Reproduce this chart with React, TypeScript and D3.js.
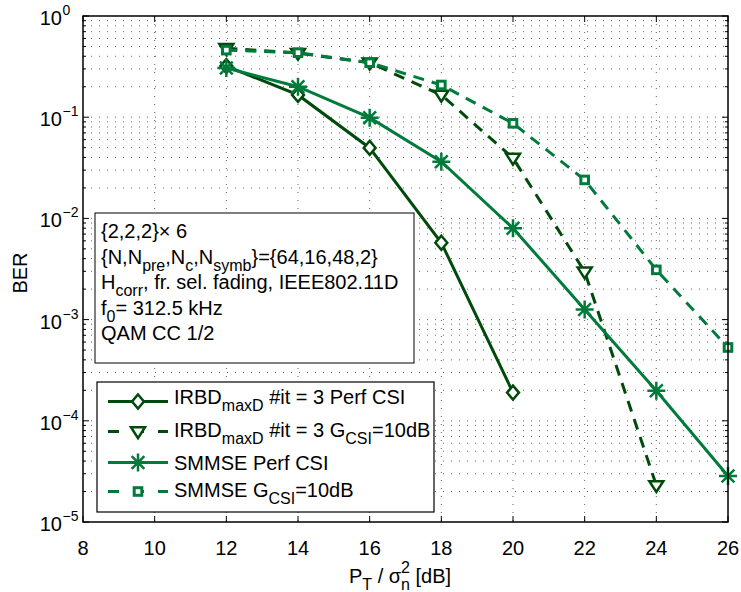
import React from "react";
import * as d3 from "d3";

const xTicks = [8, 10, 12, 14, 16, 18, 20, 22, 24, 26];
const yExps = [0, -1, -2, -3, -4, -5];

const snrIrbdPerf = [12, 14, 16, 18, 20];
const berIrbdPerf = [0.32, 0.166, 0.0497, 0.00575, 1.9e-4];
const snrIrbdG = [12, 14, 16, 18, 20, 22, 24];
const berIrbdG = [0.48, 0.43, 0.345, 0.166, 0.0395, 0.00297, 2.3e-5];
const snrSmmsePerf = [12, 14, 16, 18, 20, 22, 24, 26];
const berSmmsePerf = [0.306, 0.2, 0.099, 0.0363, 0.008, 0.00126, 1.98e-4, 2.85e-5];
const snrSmmseG = [12, 14, 16, 18, 20, 22, 24, 26];
const berSmmseG = [0.46, 0.434, 0.346, 0.208, 0.087, 0.024, 0.0031, 5.3e-4];

const DARK = "#004a0c";
const LIGHT = "#007b3c";

type Seg = { t: string; s?: "sub" | "sup" };
type Series = { x: number[]; y: number[]; color: string; dash: boolean; marker: string; label: Seg[] };

const series: Series[] = [
  { x: snrIrbdPerf, y: berIrbdPerf, color: DARK, dash: false, marker: "diamond", label: [{ t: "IRBD" }, { t: "maxD", s: "sub" }, { t: " #it = 3 Perf CSI" }] },
  { x: snrIrbdG, y: berIrbdG, color: DARK, dash: true, marker: "triangle", label: [{ t: "IRBD" }, { t: "maxD", s: "sub" }, { t: " #it = 3 G" }, { t: "CSI", s: "sub" }, { t: "=10dB" }] },
  { x: snrSmmsePerf, y: berSmmsePerf, color: LIGHT, dash: false, marker: "asterisk", label: [{ t: "SMMSE Perf CSI" }] },
  { x: snrSmmseG, y: berSmmseG, color: LIGHT, dash: true, marker: "square", label: [{ t: "SMMSE G" }, { t: "CSI", s: "sub" }, { t: "=10dB" }] },
];

const infoLines: Seg[][] = [
  [{ t: "{2,2,2}\u00d7 6" }],
  [{ t: "{N,N" }, { t: "pre", s: "sub" }, { t: ",N" }, { t: "c", s: "sub" }, { t: ",N" }, { t: "symb", s: "sub" }, { t: "}={64,16,48,2}" }],
  [{ t: "H" }, { t: "corr", s: "sub" }, { t: ", fr. sel. fading, IEEE802.11D" }],
  [{ t: "f" }, { t: "0", s: "sub" }, { t: "= 312.5 kHz" }],
  [{ t: "QAM CC 1/2" }],
];

const FONT = "Liberation Sans, Arial, Helvetica, sans-serif";
const FS = 20;

function Rich({ x, y, segs, size, anchor }: { x: number; y: number; segs: Seg[]; size: number; anchor?: string }) {
  const small = size * 0.8;
  let cur = 0;
  const out: React.ReactNode[] = [];
  segs.forEach((sg, i) => {
    const target = sg.s === "sub" ? size * 0.36 : sg.s === "sup" ? -size * 0.45 : 0;
    const dy = target - cur;
    cur = target;
    out.push(
      <tspan key={i} dy={dy} fontSize={sg.s ? small : size}>
        {sg.t}
      </tspan>
    );
  });
  return (
    <text x={x} y={y} fontFamily={FONT} fontSize={size} textAnchor={anchor || "start"} fill="#000">
      {out}
    </text>
  );
}

function Marker({ type, cx, cy, color }: { type: string; cx: number; cy: number; color: string }) {
  const sw = 2.5;
  if (type === "diamond") {
    const r = 7;
    return <path d={`M${cx},${cy - r}L${cx + r * 0.85},${cy}L${cx},${cy + r}L${cx - r * 0.85},${cy}Z`} fill="#fff" stroke={color} strokeWidth={sw} />;
  }
  if (type === "triangle") {
    const r = 7;
    return <path d={`M${cx - r},${cy - r * 0.6}L${cx + r},${cy - r * 0.6}L${cx},${cy + r * 0.95}Z`} fill="#fff" stroke={color} strokeWidth={sw} strokeLinejoin="miter" />;
  }
  if (type === "square") {
    const r = 3.8;
    return <rect x={cx - r} y={cy - r} width={2 * r} height={2 * r} fill="#fff" stroke={color} strokeWidth={3} />;
  }
  const r = 9;
  const d = r * 0.707;
  return (
    <path
      d={`M${cx - r},${cy}L${cx + r},${cy}M${cx},${cy - r}L${cx},${cy + r}M${cx - d},${cy - d}L${cx + d},${cy + d}M${cx - d},${cy + d}L${cx + d},${cy - d}`}
      stroke={color}
      strokeWidth={sw}
      fill="none"
    />
  );
}

export default function App() {
  const W = 741, H = 592;
  const L = 83, R = 728, T = 16, B = 522;
  const x = d3.scaleLinear().domain([8, 26]).range([L, R]);
  const y = d3.scaleLog().domain([1e-5, 1]).range([B, T]);
  const minors: number[] = [];
  for (let e = -5; e < 0; e++) for (let k = 2; k <= 9; k++) minors.push(k * Math.pow(10, e));
  const gridStyle = { stroke: "#222", strokeWidth: 1, strokeDasharray: "1,7", opacity: 0.7 };

  const line = d3.line<[number, number]>().x((d) => x(d[0])).y((d) => y(d[1]));

  const infoBox = { x: 95, y: 213, w: 319, h: 150 };
  const legBox = { x: 97, y: 382, w: 337, h: 130 };
  const legRows = [401.5, 431.5, 462.5, 491.5];
  const legText = [404, 437, 470, 497];

  return (
    <svg width={W} height={H} style={{ position: "absolute", left: 0, top: 0, background: "#fff" }}>
      <rect x={0} y={0} width={W} height={H} fill="#fff" />
      {/* grid */}
      {xTicks.slice(1, -1).map((t) => (
        <line key={"gx" + t} x1={x(t)} x2={x(t)} y1={T} y2={B} {...gridStyle} />
      ))}
      {yExps.slice(1, -1).map((e) => (
        <line key={"gy" + e} x1={L} x2={R} y1={y(Math.pow(10, e))} y2={y(Math.pow(10, e))} {...gridStyle} />
      ))}
      {minors.map((m, i) => (
        <line key={"gm" + i} x1={L} x2={R} y1={y(m)} y2={y(m)} {...gridStyle} />
      ))}
      {/* ticks */}
      {xTicks.map((t) => (
        <g key={"tx" + t}>
          <line x1={x(t)} x2={x(t)} y1={B} y2={B - 6} stroke="#000" />
          <line x1={x(t)} x2={x(t)} y1={T} y2={T + 6} stroke="#000" />
          <text x={x(t)} y={555} fontFamily={FONT} fontSize={FS} textAnchor="middle">
            {t}
          </text>
        </g>
      ))}
      {yExps.map((e) => (
        <g key={"ty" + e}>
          <line x1={L} x2={L + 6} y1={y(Math.pow(10, e))} y2={y(Math.pow(10, e))} stroke="#000" />
          <line x1={R} x2={R - 6} y1={y(Math.pow(10, e))} y2={y(Math.pow(10, e))} stroke="#000" />
          <text x={62} y={y(Math.pow(10, e)) + 9} fontFamily={FONT} fontSize={FS} textAnchor="end">
            10
          </text>
          <text x={62.5} y={y(Math.pow(10, e)) - 1} fontFamily={FONT} fontSize={14} textAnchor="start">
            {e === 0 ? "0" : "\u2212" + Math.abs(e)}
          </text>
        </g>
      ))}
      {minors.map((m, i) => (
        <g key={"tm" + i}>
          <line x1={L} x2={L + 3} y1={y(m)} y2={y(m)} stroke="#000" />
          <line x1={R} x2={R - 3} y1={y(m)} y2={y(m)} stroke="#000" />
        </g>
      ))}
      {/* series */}
      {series.map((s, i) => {
        const pts = s.x.map((v, j) => [v, s.y[j]] as [number, number]);
        return (
          <g key={"s" + i}>
            <path d={line(pts) || ""} fill="none" stroke={s.color} strokeWidth={3} strokeDasharray={s.dash ? "11,8" : undefined} />
            {pts.map((p, j) => (
              <Marker key={j} type={s.marker} cx={x(p[0])} cy={y(p[1])} color={s.color} />
            ))}
          </g>
        );
      })}
      {/* axes box */}
      <rect x={L} y={T} width={R - L} height={B - T} fill="none" stroke="#000" strokeWidth={1.5} />
      {/* info box */}
      <rect x={infoBox.x} y={infoBox.y} width={infoBox.w} height={infoBox.h} fill="#fff" stroke="#000" strokeWidth={1} />
      {infoLines.map((ln, i) => (
        <Rich key={"il" + i} x={101} y={238 + i * 25.5} segs={ln} size={FS} />
      ))}
      {/* legend */}
      <rect x={legBox.x} y={legBox.y} width={legBox.w} height={legBox.h} fill="#fff" stroke="#000" strokeWidth={1.2} />
      {series.map((s, i) => (
        <g key={"lg" + i}>
          <line x1={108} x2={168} y1={legRows[i]} y2={legRows[i]} stroke={s.color} strokeWidth={3} strokeDasharray={s.dash ? "11,14" : undefined} />
          <Marker type={s.marker} cx={138} cy={legRows[i]} color={s.color} />
          <Rich x={174} y={legText[i]} segs={s.label} size={FS} />
        </g>
      ))}
      {/* axis labels */}
      <text x={0} y={0} transform="translate(27,273) rotate(-90)" fontFamily={FONT} fontSize={FS} textAnchor="middle">
        BER
      </text>
      <text x={400} y={583} fontFamily={FONT} fontSize={FS} textAnchor="middle">
        <tspan>P</tspan>
        <tspan dy={7} fontSize={16}>T</tspan>
        <tspan dy={-7}> / σ</tspan>
        <tspan dy={7} fontSize={16}>n</tspan>
        <tspan dx={-9} dy={-17} fontSize={16}>2</tspan>
        <tspan dy={10}> [dB]</tspan>
      </text>
    </svg>
  );
}
